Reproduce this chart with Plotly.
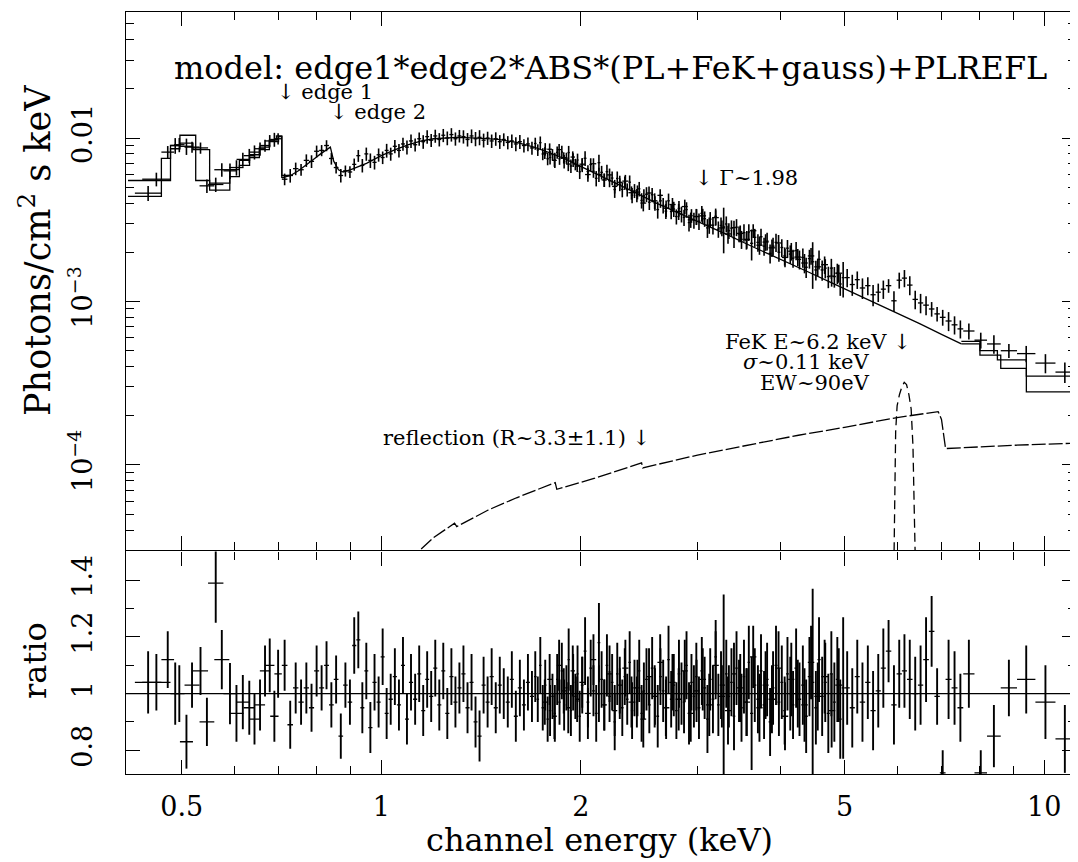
import numpy as np
import plotly.graph_objects as go

# ---------------- DATA ----------------
# Instrument A spectrum, by energy band: bin edges (keV), flux (1e-3 photons/cm2/s/keV),
# data/model ratio and its 1-sigma error
soft_edges = [0.425, 0.466, 0.487, 0.505, 0.532, 0.560, 0.590, 0.620, 0.645, 0.668,
              0.690, 0.708, 0.722, 0.736, 0.750, 0.764, 0.778, 0.792, 0.806, 0.820,
              0.834, 0.848, 0.862, 0.876, 0.890, 0.904]
soft_flux = [4.6, 8.2, 9.1, 8.8, 5.1, 6.4, 6.6, 7.8, 8.6, 9.6,
             9.9, 5.6, 5.9, 6.5, 6.4, 7.3, 7.2, 8.3, 8.4, 9.0,
             7.5, 6.6, 5.9, 6.3, 6.2]
soft_ratio = [1.04, 1.12, 1.00, 1.03, 0.90, 1.12, 0.93, 0.95, 0.96, 1.10,
              1.07, 1.10, 0.89, 1.02, 0.97, 1.02, 0.95, 1.08, 1.02, 1.10,
              0.96, 1.05, 0.85, 1.03, 0.97]
soft_ratio_err = [0.11, 0.10, 0.10, 0.08, 0.085, 0.105, 0.10, 0.095, 0.09, 0.095,
                  0.085, 0.09, 0.085, 0.09, 0.08, 0.09, 0.085, 0.09, 0.08, 0.085,
                  0.08, 0.085, 0.08, 0.08, 0.08]

mid_edges = [0.904, 0.917, 0.930, 0.943, 0.956, 0.970, 0.984, 0.998, 1.012, 1.026,
             1.041, 1.056, 1.071, 1.086, 1.101, 1.117, 1.133, 1.149, 1.165, 1.181,
             1.198, 1.215, 1.232, 1.249, 1.267, 1.285, 1.303, 1.321, 1.340, 1.359,
             1.378, 1.397, 1.417, 1.437, 1.457, 1.478, 1.499, 1.520, 1.541, 1.563,
             1.585, 1.607, 1.630, 1.653, 1.676, 1.700]
mid_flux = [6.9, 7.8, 6.8, 8.0, 7.3, 7.1, 7.9, 7.6, 8.4, 8.0,
            8.9, 8.4, 9.2, 8.8, 9.6, 9.1, 9.9, 9.5, 10.2, 9.7,
            10.3, 9.8, 10.4, 10.0, 10.5, 9.9, 10.3, 10.2, 9.8, 10.3,
            9.9, 10.1, 9.7, 10.0, 9.6, 9.9, 9.5, 9.8, 9.4, 9.6,
            9.2, 9.5, 9.0, 9.2, 8.7]
mid_ratio = [1.17, 1.19, 0.95, 1.08, 0.88, 1.04, 0.97, 1.13, 0.93, 0.98,
             1.06, 0.96, 1.10, 0.91, 1.04, 0.98, 1.07, 0.94, 1.05, 0.99,
             1.09, 0.96, 1.08, 0.93, 1.06, 0.97, 1.02, 1.07, 0.95, 1.04,
             0.90, 0.85, 1.03, 0.97, 1.06, 0.95, 1.03, 1.00, 0.97, 1.05,
             0.92, 1.02, 0.96, 1.04, 0.99]
mid_ratio_err = [0.10, 0.10, 0.09, 0.10, 0.09, 0.10, 0.09, 0.10, 0.09, 0.09,
                 0.10, 0.09, 0.10, 0.09, 0.10, 0.09, 0.10, 0.09, 0.10, 0.09,
                 0.10, 0.09, 0.10, 0.09, 0.10, 0.09, 0.09, 0.10, 0.09, 0.10,
                 0.09, 0.09, 0.10, 0.09, 0.10, 0.09, 0.10, 0.09, 0.09, 0.10,
                 0.09, 0.10, 0.09, 0.10, 0.09]

hard_edges = [1.700, 1.715, 1.730, 1.745, 1.760, 1.775, 1.790, 1.805, 1.820, 1.835,
              1.850, 1.865, 1.880, 1.895, 1.910, 1.925, 1.940, 1.955, 1.970, 1.985,
              2.000, 2.020, 2.040, 2.060, 2.080, 2.100, 2.120, 2.140, 2.160, 2.180,
              2.200, 2.220, 2.240, 2.260, 2.280, 2.300, 2.320, 2.340, 2.360, 2.380,
              2.400, 2.420, 2.440, 2.460, 2.480,
              2.500, 2.525, 2.550, 2.575, 2.600, 2.625, 2.650, 2.675, 2.700, 2.725,
              2.750, 2.775, 2.800, 2.825, 2.850, 2.875, 2.900, 2.925, 2.950, 2.975,
              3.000, 3.030, 3.060, 3.090, 3.120, 3.150, 3.180, 3.210, 3.240, 3.270,
              3.300, 3.330, 3.360, 3.390, 3.420, 3.450, 3.480, 3.510, 3.540, 3.570,
              3.600, 3.640, 3.680, 3.720, 3.760, 3.800, 3.840, 3.880, 3.920, 3.960,
              4.000, 4.040, 4.080, 4.120, 4.160,
              4.200, 4.250, 4.300, 4.350, 4.400, 4.450, 4.500, 4.550, 4.600, 4.650,
              4.700, 4.750, 4.800, 4.850, 4.900, 4.950, 5.000]
hard_flux = [9.26, 8.46, 9.37, 7.99, 8.56, 7.47, 7.61, 7.92, 7.34, 8.18,
             7.47, 8.21, 7.19, 7.54, 8.15, 6.75, 7.35, 6.90, 7.34, 6.22,
             6.85, 7.52, 6.24, 6.89, 6.27, 5.67, 7.07, 6.17, 5.54, 6.23,
             5.50, 5.69, 4.84, 5.66, 5.20, 4.85, 5.32, 4.83, 5.37, 4.47,
             4.76, 4.46, 4.89, 4.15, 4.43,
             4.53, 4.05, 4.50, 4.00, 3.65, 4.13, 3.87, 3.57, 4.13, 3.55,
             3.68, 3.31, 3.71, 3.42, 3.27, 3.65, 3.04, 3.35, 3.14, 3.31,
             3.10, 3.46, 3.21, 2.82, 3.19, 2.93, 3.32, 2.77, 2.92, 2.86,
             2.98, 2.71, 2.81, 2.44, 2.85, 2.59, 2.40, 2.64, 2.37, 2.66,
             2.27, 2.47, 2.30, 2.49, 2.18, 2.34, 1.97, 2.18, 2.30, 2.00,
             2.14, 1.90, 2.12, 1.95, 1.84,
             2.05, 1.81, 1.86, 1.62, 1.83, 1.75, 1.56, 1.81, 1.56, 1.60,
             1.42, 1.60, 1.42, 1.49, 1.28, 1.40]
hard_ratio = [1.06, 0.98, 1.10, 0.95, 1.03, 0.91, 0.94, 0.99, 0.93, 1.05,
              0.97, 1.08, 0.96, 1.02, 1.12, 0.94, 1.04, 0.99, 1.07, 0.92,
              1.03, 1.15, 0.97, 1.09, 1.01, 0.93, 1.18, 1.05, 0.96, 1.10,
              0.99, 1.04, 0.90, 1.07, 1.00, 0.95, 1.06, 0.98, 1.11, 0.94,
              1.02, 0.97, 1.08, 0.93, 1.01,
              1.05, 0.96, 1.09, 0.99, 0.92, 1.06, 1.01, 0.95, 1.12, 0.98,
              1.03, 0.94, 1.07, 1.00, 0.97, 1.10, 0.93, 1.04, 0.99, 1.06,
              0.95, 1.08, 1.02, 0.91, 1.05, 0.98, 1.13, 0.96, 1.03, 1.03,
              1.07, 0.99, 1.04, 0.92, 1.09, 1.01, 0.95, 1.06, 0.97, 1.11,
              0.93, 1.03, 0.98, 1.08, 0.96, 1.05, 0.90, 1.02, 1.10, 0.97,
              1.04, 0.94, 1.07, 1.00, 0.96,
              1.09, 0.98, 1.03, 0.92, 1.06, 1.04, 0.95, 1.12, 0.99, 1.04,
              0.93, 1.07, 0.97, 1.05, 0.91, 1.02]
hard_ratio_err = [0.09, 0.08, 0.10, 0.08, 0.09, 0.08, 0.09, 0.08, 0.10, 0.09,
                  0.08, 0.10, 0.09, 0.08, 0.11, 0.09, 0.10, 0.08, 0.10, 0.09,
                  0.10, 0.12, 0.09, 0.10, 0.09, 0.10, 0.14, 0.10, 0.09, 0.11,
                  0.09, 0.10, 0.10, 0.11, 0.09, 0.10, 0.10, 0.09, 0.11, 0.10,
                  0.10, 0.09, 0.11, 0.10, 0.10,
                  0.11, 0.10, 0.11, 0.10, 0.11, 0.10, 0.11, 0.10, 0.12, 0.10,
                  0.11, 0.10, 0.12, 0.11, 0.11, 0.12, 0.11, 0.10, 0.11, 0.12,
                  0.11, 0.12, 0.11, 0.12, 0.11, 0.12, 0.13, 0.11, 0.12, 0.32,
                  0.12, 0.11, 0.12, 0.12, 0.13, 0.11, 0.12, 0.13, 0.12, 0.13,
                  0.20, 0.13, 0.12, 0.13, 0.12, 0.13, 0.12, 0.13, 0.14, 0.12,
                  0.13, 0.12, 0.13, 0.13, 0.12,
                  0.14, 0.13, 0.14, 0.13, 0.14, 0.33, 0.13, 0.15, 0.14, 0.14,
                  0.14, 0.15, 0.14, 0.15, 0.14, 0.25]

iron_edges = [5.00, 5.09, 5.18, 5.27, 5.37, 5.47, 5.57, 5.67, 5.77, 5.88,
              5.99, 6.10, 6.21, 6.33, 6.45, 6.57, 6.70, 6.83, 6.96, 7.10,
              7.25, 7.40, 7.55]
iron_flux = [1.40, 1.27, 1.36, 1.21, 1.25, 1.10, 1.14, 1.19, 1.25, 1.01,
             1.35, 1.39, 1.26, 1.03, 0.98, 0.95, 0.90, 0.84, 0.80, 0.76,
             0.72, 0.68]
iron_ratio = [1.02, 0.95, 1.06, 0.97, 1.04, 0.94, 1.01, 1.09, 1.15, 0.96,
              1.07, 1.08, 1.05, 1.00, 1.03, 1.12, 1.22, 0.99, 0.72, 1.05,
              1.02, 0.95]
iron_ratio_err = [0.13, 0.14, 0.13, 0.14, 0.13, 0.14, 0.13, 0.14, 0.11, 0.14,
                  0.12, 0.13, 0.14, 0.13, 0.14, 0.15, 0.125, 0.10, 0.08, 0.14,
                  0.13, 0.12]

tail_edges = [7.55, 7.85, 8.20, 8.60, 9.10, 9.70, 10.40, 11.10]
tail_flux = [0.66, 0.58, 0.55, 0.50, 0.48, 0.42, 0.37]
tail_ratio = [1.07, 0.72, 0.85, 1.02, 1.05, 0.97, 0.84]
tail_ratio_err = [0.12, 0.08, 0.11, 0.10, 0.12, 0.13, 0.12]

# Instrument B: soft band and hard band, with its own binning
b_edges = [0.436, 0.481, 0.497, 0.520, 0.548, 0.578, 0.605, 0.632, 0.656, 0.680, 0.700]
b_flux = [5.6, 9.0, 8.9, 8.7, 5.2, 6.3, 7.4, 8.2, 9.0, 9.8]
b_ratio = [1.04, 1.00, 0.83, 1.08, 1.39, 1.00, 0.97, 0.91, 1.08, 0.92]
b_ratio_err = [0.10, 0.11, 0.095, 0.085, 0.14, 0.108, 0.096, 0.09, 0.09, 0.09]

b_hard_edges = [1.75, 1.78, 1.81, 1.84, 1.87, 1.90, 1.93, 1.96, 1.99, 2.03,
                2.07, 2.11, 2.15, 2.19, 2.23, 2.27, 2.31, 2.36, 2.41, 2.46,
                2.51, 2.56, 2.61, 2.66, 2.72, 2.78, 2.84, 2.90, 2.96, 3.02,
                3.09, 3.16, 3.23, 3.30, 3.37, 3.44, 3.52, 3.60, 3.68, 3.76,
                3.84, 3.93, 4.02, 4.11, 4.20, 4.30, 4.40, 4.50, 4.61, 4.72,
                4.84, 4.96]
b_hard_flux = [8.10, 8.54, 7.30, 8.49, 7.58, 6.93, 7.65, 6.74, 6.92, 5.98,
               6.96, 5.99, 5.54, 5.95, 5.06, 5.36, 5.45, 4.63, 4.67, 4.00,
               4.61, 4.13, 4.46, 3.72, 3.92, 3.55, 3.81, 3.16, 3.31, 3.34,
               2.93, 3.26, 2.82, 2.59, 2.83, 2.61, 2.40, 2.71, 2.21, 2.31,
               2.13, 2.28, 1.86, 2.03, 1.87, 1.72, 1.90, 1.63, 1.68, 1.43,
               1.49]
b_hard_ratio = [0.97, 1.05, 0.92, 1.10, 1.01, 0.95, 1.08, 0.98, 1.04, 0.93,
                1.12, 1.00, 0.96, 1.07, 0.94, 1.03, 1.09, 0.97, 1.02, 0.91,
                1.06, 0.99, 1.11, 0.95, 1.04, 0.98, 1.08, 0.93, 1.01, 1.05,
                0.96, 1.10, 0.99, 0.94, 1.07, 1.02, 0.97, 1.13, 0.95, 1.03,
                0.98, 1.09, 0.92, 1.05, 1.00, 0.96, 1.11, 0.99, 1.06, 0.94,
                1.03]
b_hard_ratio_err = [0.08, 0.09, 0.08, 0.09, 0.08, 0.09, 0.09, 0.08, 0.09, 0.09,
                    0.09, 0.10, 0.09, 0.10, 0.09, 0.10, 0.10, 0.09, 0.10, 0.10,
                    0.10, 0.11, 0.10, 0.11, 0.10, 0.11, 0.11, 0.10, 0.11, 0.11,
                    0.11, 0.12, 0.11, 0.12, 0.11, 0.12, 0.12, 0.11, 0.12, 0.12,
                    0.12, 0.13, 0.12, 0.13, 0.12, 0.13, 0.13, 0.12, 0.13, 0.13,
                    0.13]

# Folded models (1e-3 photons/cm2/s/keV)
model_a_low_energy = [0.415, 0.466, 0.481, 0.497, 0.525, 0.551, 0.591, 0.611, 0.633, 0.655, 0.678, 0.695, 0.708]
model_a_low_flux = [4.4, 7.5, 9.0, 10.4, 5.5, 4.8, 6.4, 7.3, 7.9, 8.8, 9.7, 10.3, 5.7]
model_a_energy = [0.708, 0.73, 0.75, 0.77, 0.79, 0.81, 0.83, 0.838, 0.848, 0.862,
                  0.876, 0.90, 0.95, 1.0, 1.05, 1.1, 1.15, 1.2, 1.3, 1.4,
                  1.5, 1.6, 1.7, 1.8, 1.9, 2.0, 2.2, 2.4, 2.6, 2.8,
                  3.0, 3.3, 3.6, 4.0, 4.4, 4.8, 5.2, 5.6, 6.0, 6.5,
                  7.0, 7.5]
model_a_flux = [5.7, 5.9, 6.3, 6.8, 7.4, 8.0, 8.6, 8.8, 7.2, 6.4,
                6.2, 6.4, 7.0, 7.8, 8.5, 9.1, 9.6, 9.9, 10.1, 10.0,
                9.8, 9.4, 8.8, 8.1, 7.4, 6.7, 5.6, 4.7, 4.0, 3.5,
                3.1, 2.6, 2.2, 1.82, 1.52, 1.29, 1.11, 0.97, 0.85, 0.73,
                0.63, 0.55]
model_a_tail_energy = [7.5, 8.0, 8.6, 9.4, 11.2]
model_a_tail_flux = [0.55, 0.47, 0.39, 0.28, 0.28]
model_b_low_energy = [0.415, 0.481, 0.497, 0.520, 0.551, 0.591, 0.611, 0.633, 0.655, 0.678, 0.700, 0.708, 0.73]
model_b_low_flux = [5.5, 8.6, 9.3, 8.5, 5.3, 5.8, 6.8, 7.6, 8.5, 9.5, 10.2, 5.9, 5.9]
model_b_tail_energy = [7.5, 8.0, 8.5, 9.4, 11.2]
model_b_tail_flux = [0.57, 0.50, 0.44, 0.35, 0.35]

# Reflection component and FeK gaussian (photons/cm2/s/keV)
refl_energy = [1.10, 1.20, 1.29, 1.30, 1.45, 1.60, 1.83, 1.84, 2.10, 2.47, 2.48,
               3.0, 3.5, 4.26, 5.0, 6.0, 6.92, 7.0, 7.1, 8.0, 9.0, 11.2]
refl_flux = [2.6e-5, 3.6e-5, 4.4e-5, 4.2e-5, 5.3e-5, 6.3e-5, 7.8e-5, 7.1e-5, 8.3e-5, 1.03e-4, 9.6e-5,
             1.15e-4, 1.3e-4, 1.52e-4, 1.7e-4, 1.95e-4, 2.12e-4, 1.9e-4, 1.26e-4, 1.29e-4, 1.32e-4, 1.36e-4]
gauss_energy = [5.93, 5.95, 5.97, 6.00, 6.05, 6.10, 6.15, 6.20, 6.25, 6.30, 6.34, 6.37, 6.40]
gauss_flux = [2.0e-5, 6.0e-5, 1.6e-4, 2.3e-4, 2.7e-4, 3.0e-4, 3.2e-4, 3.1e-4, 2.7e-4, 2.2e-4, 1.3e-4, 5e-5, 2.0e-5]

# Ticks
x_tick_vals = [0.5, 1, 2, 5, 10]
x_tick_text = ["0.5", "1", "2", "5", "10"]
x_minor_vals = [0.6, 0.7, 0.8, 0.9, 3, 4, 6, 7, 8, 9]
flux_tick_vals = [1e-4, 1e-3, 1e-2]
flux_tick_text = ["10<sup>\u22124</sup>", "10<sup>\u22123</sup>", "0.01"]
flux_minor_vals = [4e-5, 5e-5, 6e-5, 7e-5, 8e-5, 9e-5,
                   2e-4, 3e-4, 4e-4, 5e-4, 6e-4, 7e-4, 8e-4, 9e-4,
                   2e-3, 3e-3, 4e-3, 5e-3, 6e-3, 7e-3, 8e-3, 9e-3,
                   2e-2, 3e-2, 4e-2, 5e-2]
ratio_tick_vals = [0.8, 1.0, 1.2, 1.4]
ratio_tick_text = ["0.8", "1", "1.2", "1.4"]
ratio_minor_vals = [0.9, 1.1, 1.3]


# ---------------- BUILD ----------------
def band(edges, flux, ratio, err):
    n = min(len(edges) - 1, len(flux), len(ratio), len(err))
    lo = np.asarray(edges[:n], float)
    hi = np.asarray(edges[1:n + 1], float)
    return lo, hi, np.asarray(flux[:n], float) * 1e-3, np.asarray(ratio[:n], float), np.asarray(err[:n], float)


def join(bands):
    return [np.concatenate([b[i] for b in bands]) for i in range(5)]


set_a = join([band(soft_edges, soft_flux, soft_ratio, soft_ratio_err),
              band(mid_edges, mid_flux, mid_ratio, mid_ratio_err),
              band(hard_edges, hard_flux, hard_ratio, hard_ratio_err),
              band(iron_edges, iron_flux, iron_ratio, iron_ratio_err),
              band(tail_edges, tail_flux, tail_ratio, tail_ratio_err)])
set_b = join([band(b_edges, b_flux, b_ratio, b_ratio_err),
              band(b_hard_edges, b_hard_flux, b_hard_ratio, b_hard_ratio_err)])

INK = "black"
FONT = "DejaVu Serif"
fig = go.Figure()

for lo, hi, fl, ra, er in (set_a, set_b):
    cen = np.sqrt(lo * hi)
    ex = dict(type="data", symmetric=False, array=hi - cen, arrayminus=cen - lo,
              color=INK, thickness=1.3, width=0)
    fig.add_trace(go.Scatter(
        x=cen, y=fl, mode="markers", marker=dict(size=1, color=INK),
        error_x=ex,
        error_y=dict(type="data", array=fl * er / ra, color=INK, thickness=1.6, width=0),
        xaxis="x", yaxis="y", hoverinfo="skip"))
    fig.add_trace(go.Scatter(
        x=cen, y=ra, mode="markers", marker=dict(size=1, color=INK),
        error_x=ex,
        error_y=dict(type="data", array=er, color=INK, thickness=1.9, width=0),
        xaxis="x2", yaxis="y2", hoverinfo="skip"))

model_line = dict(color=INK, width=1.3)
for e, f, shape in [(model_a_low_energy, model_a_low_flux, "hv"),
                    (model_a_energy, model_a_flux, "linear"),
                    (model_a_tail_energy, model_a_tail_flux, "hv"),
                    (model_b_low_energy, model_b_low_flux, "hv"),
                    (model_b_tail_energy, model_b_tail_flux, "hv")]:
    fig.add_trace(go.Scatter(x=e, y=np.asarray(f) * 1e-3, mode="lines",
                             line=dict(model_line, shape=shape),
                             xaxis="x", yaxis="y", hoverinfo="skip"))

fig.add_trace(go.Scatter(x=refl_energy, y=refl_flux, mode="lines",
                         line=dict(color=INK, width=1.3, dash="14px,3px"),
                         xaxis="x", yaxis="y", hoverinfo="skip"))
fig.add_trace(go.Scatter(x=gauss_energy, y=gauss_flux, mode="lines",
                         line=dict(color=INK, width=1.3, dash="9px,5px"),
                         xaxis="x", yaxis="y", hoverinfo="skip"))

fig.add_shape(type="line", xref="x2 domain", yref="y2", x0=0, x1=1, y0=1, y1=1,
              line=dict(color=INK, width=1.3))

common = dict(showline=True, linecolor=INK, linewidth=1.4, mirror="allticks",
              ticks="inside", ticklen=14, tickwidth=1.2, tickcolor=INK,
              showgrid=False, zeroline=False, automargin=False,
              tickfont=dict(family=FONT, size=27, color=INK))


def minor(vals):
    return dict(tickmode="array", tickvals=vals, ticks="inside", ticklen=8,
                tickwidth=1.2, tickcolor=INK, showgrid=False)


xr = [-0.385, 1.048]
# page body has an 8px margin, so the figure is 8px smaller than the window on each axis
fig.update_layout(
    width=1070, height=854,
    margin=dict(l=118, r=2, t=4, b=88),
    paper_bgcolor="white", plot_bgcolor="white", showlegend=False,
    font=dict(family=FONT, color=INK),
    xaxis=dict(common, type="log", range=xr, anchor="y", tickmode="array",
               tickvals=x_tick_vals, showticklabels=False, minor=minor(x_minor_vals)),
    xaxis2=dict(common, type="log", range=xr, anchor="y2", matches="x", tickmode="array",
                tickvals=x_tick_vals, ticktext=x_tick_text, ticklabelstandoff=8,
                minor=minor(x_minor_vals)),
    yaxis=dict(common, type="log", range=[-4.52, -1.229], domain=[0.294, 1], anchor="x",
               tickmode="array", tickvals=flux_tick_vals, ticktext=flux_tick_text,
               tickangle=-90, ticklabelstandoff=22, minor=minor(flux_minor_vals)),
    yaxis2=dict(common, range=[0.716, 1.502], domain=[0, 0.292], anchor="x2",
                tickmode="array", tickvals=ratio_tick_vals, ticktext=ratio_tick_text,
                tickangle=-90, ticklabelstandoff=22, minor=minor(ratio_minor_vals)),
)


def label(text, x, y, size, xanchor="left", angle=0):
    fig.add_annotation(text=text, x=x, y=y, xref="paper", yref="paper", showarrow=False,
                       xanchor=xanchor, yanchor="middle", textangle=angle,
                       font=dict(family=FONT, size=size, color=INK))


label("model: edge1*edge2*ABS*(PL+FeK+gauss)+PLREFL", 0.5095, 0.9265, 32, "center")
label("\u2193 edge 1", 0.1568, 0.8950, 21)
label("\u2193 edge 2", 0.2126, 0.8688, 21)
label("\u2193 \u0393~1.98", 0.5968, 0.7822, 21)
label("FeK E~6.2 keV \u2193", 0.8284, 0.5669, 21, "right")
label("<i>\u03c3</i>~0.11 keV", 0.7853, 0.5407, 21, "right")
label("EW~90eV", 0.7853, 0.5131, 21, "right")
label("reflection (R~3.3\u00b11.1) \u2193", 0.5537, 0.4409, 21, "right")
label("Photons/cm<sup>2</sup> s keV", -0.0958, 0.6877, 35, "center", -90)
label("ratio", -0.0958, 0.1496, 32, "center", -90)
label("channel energy (keV)", 0.4989, -0.0866, 32, "center")

fig.write_html("out.html")
